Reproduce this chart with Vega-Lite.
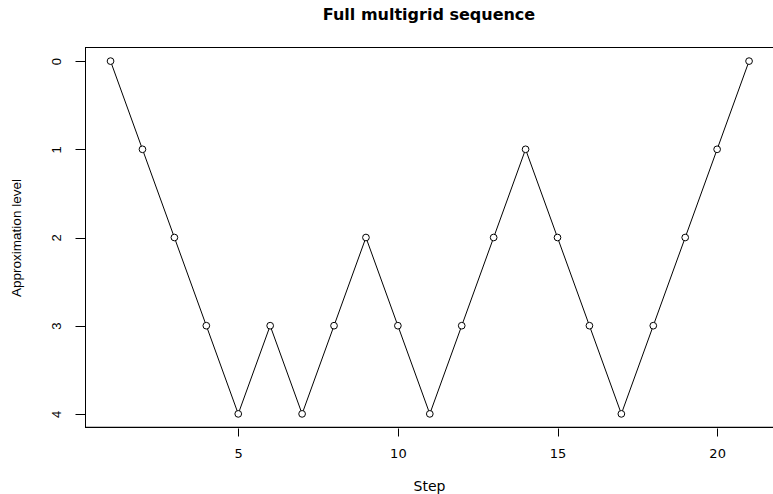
{
  "$schema": "https://vega.github.io/schema/vega-lite/v6.json",
  "width": 688,
  "height": 381,
  "autosize": {"type": "none"},
  "padding": {"left": 85, "top": 47, "right": 0, "bottom": 66},
  "background": "white",
  "title": {"text": "Full multigrid sequence", "font": "DejaVu Sans", "fontSize": 16, "fontWeight": "bold", "color": "black", "offset": 24, "anchor": "middle"},
  "config": {
    "view": {"stroke": null},
    "axis": {"labelFont": "DejaVu Sans", "titleFont": "DejaVu Sans", "titleFontWeight": "normal", "labelColor": "black", "titleColor": "black", "domain": false, "tickColor": "black", "grid": false}
  },
  "data": {"values": [
    {"step": 1, "level": 0}, {"step": 2, "level": 1}, {"step": 3, "level": 2}, {"step": 4, "level": 3},
    {"step": 5, "level": 4}, {"step": 6, "level": 3}, {"step": 7, "level": 4}, {"step": 8, "level": 3},
    {"step": 9, "level": 2}, {"step": 10, "level": 3}, {"step": 11, "level": 4}, {"step": 12, "level": 3},
    {"step": 13, "level": 2}, {"step": 14, "level": 1}, {"step": 15, "level": 2}, {"step": 16, "level": 3},
    {"step": 17, "level": 4}, {"step": 18, "level": 3}, {"step": 19, "level": 2}, {"step": 20, "level": 1},
    {"step": 21, "level": 0}
  ]},
  "encoding": {
    "x": {"field": "step", "type": "quantitative", "scale": {"domain": [0.2, 21.75], "nice": false, "zero": false},
      "axis": {"values": [5, 10, 15, 20], "title": "Step", "labelFontSize": 13, "titleFontSize": 14, "tickSize": 8, "labelPadding": 11, "titlePadding": 19, "labelFlush": false}},
    "y": {"field": "level", "type": "quantitative", "scale": {"domain": [-0.16, 4.16], "nice": false, "zero": false, "reverse": true},
      "axis": {"values": [0, 1, 2, 3, 4], "title": "Approximation level", "labelFont": "Liberation Sans", "titleFont": "Liberation Sans", "labelFontSize": 13, "titleFontSize": 13.5, "tickSize": 10, "labelAngle": -90, "labelAlign": "center", "labelBaseline": "bottom", "labelPadding": 12, "titlePadding": 27}}
  },
  "layer": [
    {"mark": {"type": "line", "color": "black", "strokeWidth": 1}},
    {"mark": {"type": "point", "shape": "circle", "filled": false, "fill": "white", "fillOpacity": 1, "stroke": "black", "strokeWidth": 1, "size": 45, "opacity": 1}},
    {"mark": {"type": "rule", "color": "black", "strokeWidth": 1}, "encoding": {"x": {"datum": 0.2}, "y": {"datum": -0.1543}, "x2": {"datum": 21.75}}},
    {"mark": {"type": "rule", "color": "black", "strokeWidth": 1}, "encoding": {"x": {"datum": 0.2}, "y": {"datum": 4.1543}, "x2": {"datum": 21.75}}},
    {"mark": {"type": "rule", "color": "black", "strokeWidth": 1}, "encoding": {"x": {"datum": 0.2157}, "y": {"datum": -0.16}, "y2": {"datum": 4.16}}}
  ]
}
